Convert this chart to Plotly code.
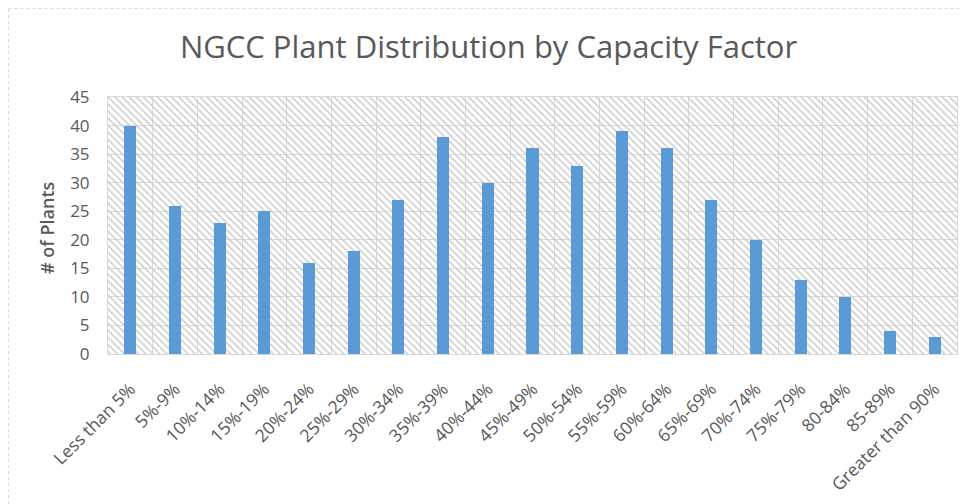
import plotly.graph_objects as go

categories = ["Less than 5%", "5%-9%", "10%-14%", "15%-19%", "20%-24%", "25%-29%",
              "30%-34%", "35%-39%", "40%-44%", "45%-49%", "50%-54%", "55%-59%",
              "60%-64%", "65%-69%", "70%-74%", "75%-79%", "80-84%", "85-89%",
              "Greater than 90%"]
plants = [40, 26, 23, 25, 16, 18, 27, 38, 30, 36, 33, 39, 36, 27, 20, 13, 10, 4, 3]
y_max = 45

# page body has an 8px margin, so the figure is drawn 8px smaller
W, H = 961, 496
ml, mr, mt, mb = 100, 12, 89, 150
pw, ph = W - ml - mr, H - mt - mb

fig = go.Figure()
# hatched plot-area background
fig.add_trace(go.Bar(
    x=categories, y=[y_max] * len(categories), width=1,
    marker=dict(color="rgba(0,0,0,0)", line=dict(width=0),
                pattern=dict(shape="\\", fgcolor="#cccccc", bgcolor="rgba(0,0,0,0)",
                             size=5, solidity=0.3)),
    hoverinfo="skip", showlegend=False))
fig.add_trace(go.Bar(
    x=categories, y=plants, width=0.27,
    marker=dict(color="#5B9BD5", line=dict(width=0)),
    showlegend=False, name="# of Plants"))

# chart-area dotted border (left and top edges)
fig.add_shape(type="line", xref="paper", yref="paper",
              x0=(0.5 - ml) / pw, x1=(0.5 - ml) / pw,
              y0=(H - mb - H) / ph, y1=(H - mb - 0.5) / ph,
              line=dict(color="#d9d9d9", width=1, dash="dot"), layer="below")
fig.add_shape(type="line", xref="paper", yref="paper",
              x0=(0.5 - ml) / pw, x1=(W - ml) / pw,
              y0=(H - mb - 0.5) / ph, y1=(H - mb - 0.5) / ph,
              line=dict(color="#d9d9d9", width=1, dash="dot"), layer="below")

fig.add_annotation(text="# of Plants", xref="paper", yref="paper",
                   x=(38.5 - ml) / pw, y=(H - mb - 219.5) / ph,
                   xanchor="center", yanchor="middle", textangle=-90, showarrow=False,
                   font=dict(size=18, color="#595959", weight=600))

fig.update_layout(
    template="none",
    width=W, height=H, barmode="overlay",
    margin=dict(l=ml, r=mr, t=mt, b=mb, autoexpand=False),
    paper_bgcolor="white", plot_bgcolor="white",
    font=dict(family="Open Sans, Noto Sans, sans-serif", color="#595959"),
    title=dict(text="NGCC Plant Distribution by Capacity Factor",
               x=0.5, xref="container", xanchor="center", y=1 - 39 / H, yanchor="middle",
               font=dict(size=31, color="#595959")),
    xaxis=dict(tickson="boundaries", showgrid=True, gridcolor="#d9d9d9", gridwidth=1,
               tickangle=-45, tickfont=dict(size=17.5, color="#595959"),
               ticks="", showline=True, linecolor="#d9d9d9", mirror=True,
               automargin=False, ticklabelstandoff=17,
               range=[-0.5, len(categories) - 0.5]),
    yaxis=dict(range=[0, y_max], dtick=5, showgrid=True, gridcolor="#d9d9d9",
               tickfont=dict(size=17, color="#595959"), ticks="",
               showline=True, linecolor="#d9d9d9", mirror=True, zeroline=False,
               automargin=False, ticklabelstandoff=14),
    bargap=0,
)

fig.write_html("out.html")
